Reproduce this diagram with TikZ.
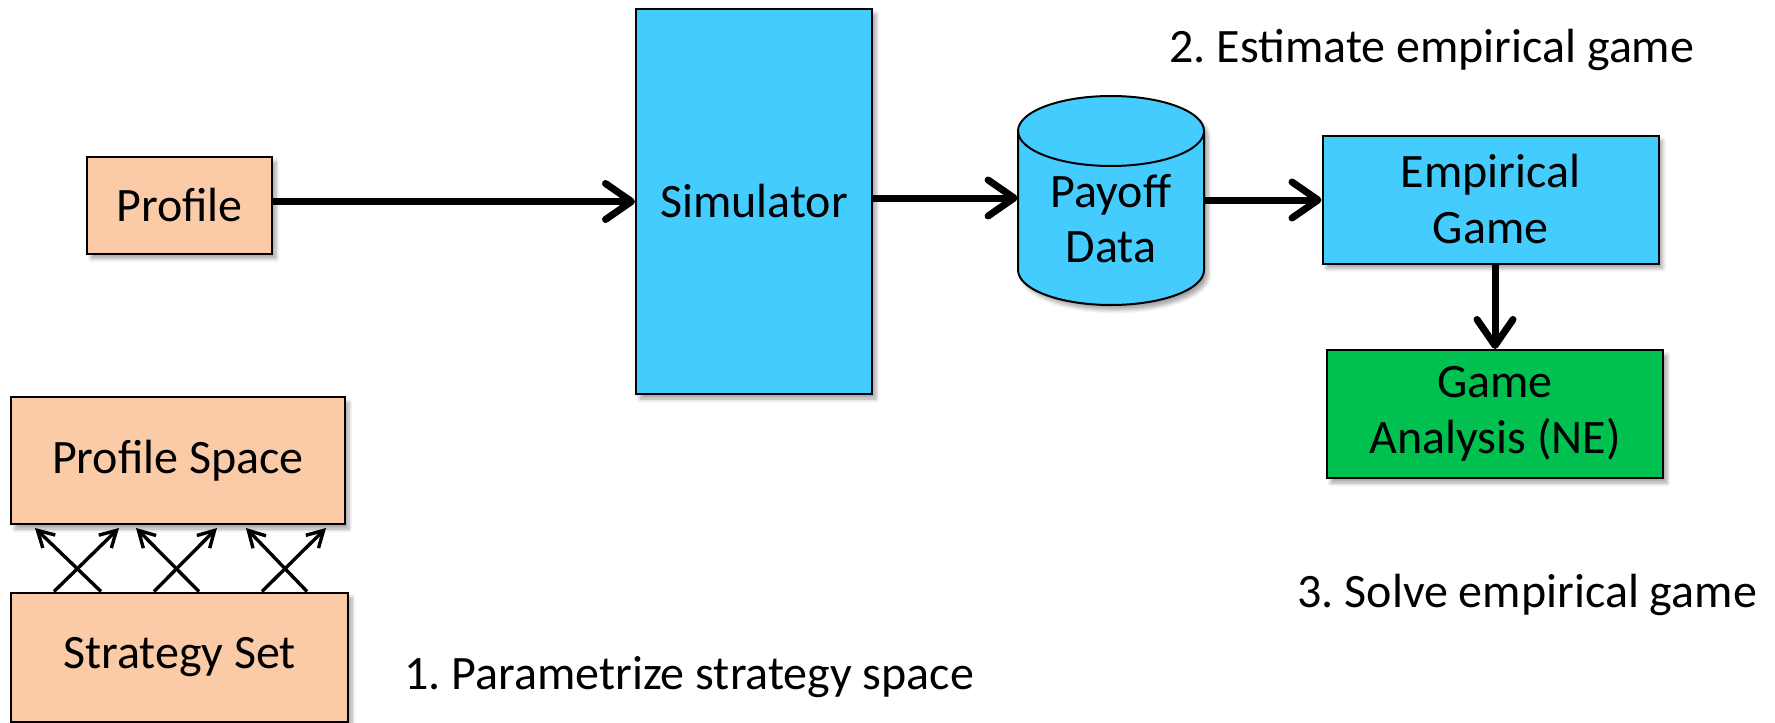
\documentclass[tikz,border=0pt]{standalone}
\usepackage{fontspec}
\setmainfont{Carlito}
\usetikzlibrary{arrows.meta,shadows,shadows.blur}
\definecolor{peach}{HTML}{FACBA6}
\definecolor{skyc}{HTML}{45CCFF}
\definecolor{grn}{HTML}{00C050}
\frenchspacing
\tikzset{
  shad/.style={blur shadow={shadow xshift=2pt, shadow yshift=-2.5pt, shadow blur steps=6, shadow opacity=35}},
  box/.style={draw=black, line width=1pt, rectangle, inner sep=0pt, align=center,
    font=\fontsize{24}{28}\selectfont, shad},
  lbl/.style={font=\fontsize{24}{28}\selectfont, anchor=mid west, inner sep=0pt},
  bigarrow/.style={line width=3.5pt, -{Straight Barb[length=13pt,width=18pt,line width=3.5pt,round]}},
  smallarrow/.style={line width=1.7pt, -{Straight Barb[length=8pt,width=9pt,line width=1.7pt]}},
}
\begin{document}
\begin{tikzpicture}[x=0.5pt,y=-0.5pt]
\useasboundingbox (0,0) rectangle (1775,722);
% boxes
\node[box, fill=peach, minimum width=92.5pt, minimum height=48.5pt] (prof) at (179.5,205) {Profile};
\node[box, fill=skyc, minimum width=118pt, minimum height=192.5pt] (sim) at (754,201.5) {Simulator};
% cylinder
\draw[line width=1pt, fill=skyc, shad] (1018,131) -- (1018,270) arc[start angle=180, end angle=0, x radius=93, y radius=35]
  -- (1204,131) arc[start angle=0, end angle=-180, x radius=93, y radius=35] -- cycle;
\draw[line width=1pt] (1018,131) arc[start angle=180, end angle=0, x radius=93, y radius=35];
\node[inner sep=0pt, minimum width=93pt, minimum height=50pt, align=center, font=\fontsize{24}{27.5}\selectfont] (payoff) at (1111,219) {Payoff\\Data};
\node[box, fill=skyc, minimum width=168pt, minimum height=64pt] (emp) at (1490.5,199.5) {Empirical\\Game};
\node[box, fill=grn, minimum width=168pt, minimum height=64pt] (ga) at (1495,414) {Game\\Analysis (NE)};
\node[box, fill=peach, minimum width=167pt, minimum height=63.5pt] (ps) at (178,460.5) {Profile Space};
\node[box, fill=peach, minimum width=168.5pt, minimum height=64.5pt] (ss) at (179.5,657) {Strategy Set};
% labels
\node[lbl] (l2) at (1169,58) {2. Estimate empirical game};
\node[lbl] (l3) at (1297,603) {3. Solve empirical game};
\node[lbl] (l1) at (404,685) {1. Parametrize strategy space};
% main arrows
\draw[bigarrow] (prof.east |- sim.west) -- (sim.west);
\draw[bigarrow] (sim.east |- 0,198) -- (payoff.west |- 0,198);
\draw[bigarrow] (payoff.east |- 0,200) -- (emp.west |- 0,200);
\draw[bigarrow] (ga.north |- emp.south) -- (ga.north);
% cross arrows
\draw[smallarrow] ([xshift=45.5pt]ss.north west) -- ([xshift=12.5pt,yshift=-1.5pt]ps.south west);
\draw[smallarrow] ([xshift=22pt]ss.north west) -- ([xshift=54.5pt,yshift=-1.5pt]ps.south west);
\draw[smallarrow] ([xshift=94.5pt]ss.north west) -- ([xshift=63pt,yshift=-1.5pt]ps.south west);
\draw[smallarrow] ([xshift=72pt]ss.north west) -- ([xshift=103.5pt,yshift=-1.5pt]ps.south west);
\draw[smallarrow] ([xshift=148.5pt]ss.north west) -- ([xshift=118pt,yshift=-1.5pt]ps.south west);
\draw[smallarrow] ([xshift=126pt]ss.north west) -- ([xshift=158pt,yshift=-1.5pt]ps.south west);
\end{tikzpicture}
\end{document}
